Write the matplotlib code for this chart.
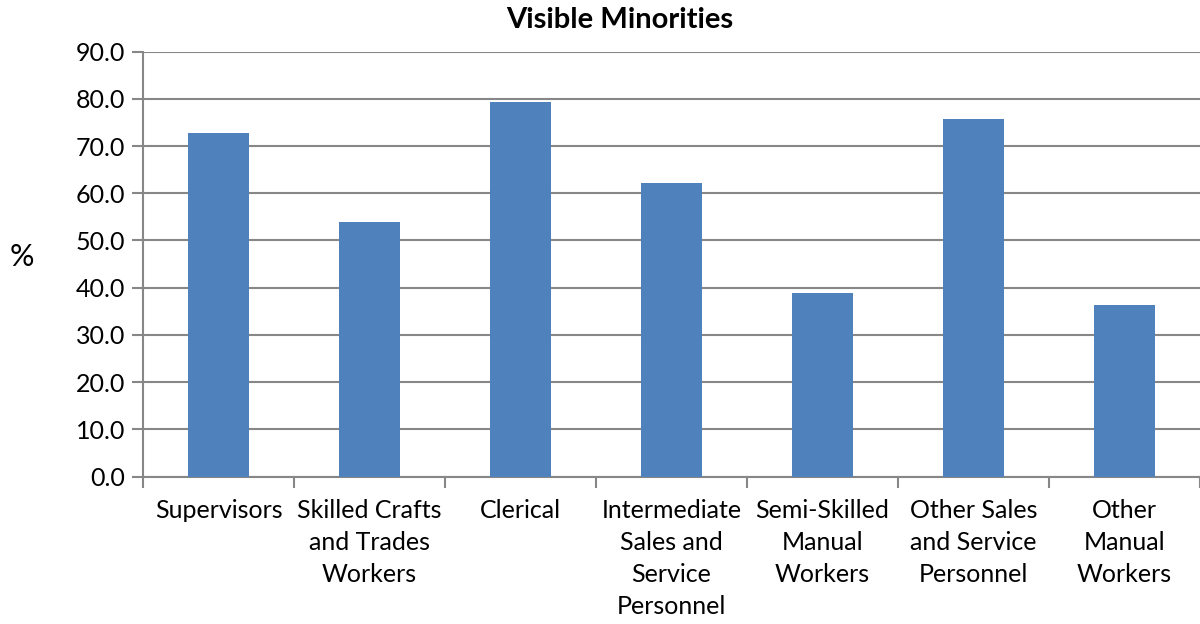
import matplotlib.pyplot as plt
import numpy as np

categories = [
    "Supervisors",
    "Skilled Crafts\nand Trades\nWorkers",
    "Clerical",
    "Intermediate\nSales and\nService\nPersonnel",
    "Semi-Skilled\nManual\nWorkers",
    "Other Sales\nand Service\nPersonnel",
    "Other\nManual\nWorkers",
]
values = [72.8, 53.9, 79.4, 62.2, 38.9, 75.7, 36.3]
y_ticks = [0, 10, 20, 30, 40, 50, 60, 70, 80, 90]

plt.rcParams["font.family"] = ["Lato", "DejaVu Sans"]

fig = plt.figure(figsize=(12, 6.24), dpi=100)
ax = fig.add_axes([143 / 1200, 1 - 476.5 / 624, 1 - 143 / 1200, (476.5 - 51.7) / 624])

x = np.arange(len(categories))
ax.bar(x, values, width=0.4, color="#4F81BD", zorder=3)

ax.set_xlim(-0.5, len(categories) - 0.5)
ax.set_ylim(0, 90)
ax.set_yticks(y_ticks)
ax.set_yticklabels([f"{v:.1f}" for v in y_ticks], fontsize=18)
ax.yaxis.grid(True, color="#878787", lw=1.5, zorder=0)

# category labels between boundary ticks
ax.set_xticks(np.arange(len(categories) + 1) - 0.5)
ax.set_xticklabels([])
ax.set_xticks(x, minor=True)
ax.set_xticklabels(categories, minor=True, fontsize=18, linespacing=1.48, va="top")
ax.tick_params(axis="x", which="minor", length=0, pad=16)
ax.tick_params(axis="x", which="major", length=8, width=1.5, color="#878787")
ax.tick_params(axis="y", length=8, width=1.5, color="#878787", pad=5)

for side in ("top", "right"):
    ax.spines[side].set_visible(False)
for side in ("left", "bottom"):
    ax.spines[side].set_color("#878787")
    ax.spines[side].set_linewidth(1.5)

fig.text(620 / 1200, 1 - 20 / 624, "Visible Minorities", ha="center", va="center",
         fontsize=21, fontweight="bold")
fig.text(22 / 1200, 1 - 257 / 624, "%", ha="center", va="center", fontsize=22)

fig.savefig("out.png", dpi=100)
